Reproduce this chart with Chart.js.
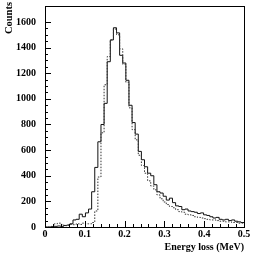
<!DOCTYPE html>
<html><head><meta charset="utf-8">
<script src="https://cdn.jsdelivr.net/npm/chart.js@4/dist/chart.umd.min.js"></script>
<style>html,body{margin:0;padding:0;background:#fff}canvas{display:block}</style>
</head><body>
<canvas id="c" width="259" height="253"></canvas>
<script>
const binWidth = 0.0078125; // 64 bins over 0 - 0.5 MeV
const solidCounts = [
  0, 0, 3, 5, 8, 5, 12, 15, 25, 55, 60, 100, 80, 110, 140, 275,
  465, 665, 800, 965, 1290, 1460, 1555, 1515, 1340, 1280, 1145, 950, 815, 725, 590, 525,
  470, 420, 400, 330, 275, 265, 240, 210, 225, 190, 165, 160, 135, 140, 125, 120,
  115, 105, 110, 95, 90, 80, 70, 75, 60, 55, 60, 50, 55, 45, 40, 35
];
const dottedCounts = [
  0, 0, 5, 25, 30, 20, 10, 15, 20, 18, 25, 20, 30, 25, 25, 35,
  125, 390, 735, 1110, 1330, 1460, 1545, 1500, 1390, 1270, 1130, 930, 760, 680, 560, 480,
  420, 360, 320, 290, 250, 220, 195, 175, 160, 150, 135, 120, 115, 100, 95, 90,
  80, 75, 70, 65, 60, 55, 55, 50, 45, 45, 40, 40, 35, 35, 30, 30
];
const xTickValues = [0, 0.1, 0.2, 0.3, 0.4, 0.5];
const yTickValues = [0, 200, 400, 600, 800, 1000, 1200, 1400, 1600];
const xMinorStep = 0.02;
const yMinorStep = 50;
const yMax = 1717;
const xTitle = 'Energy loss (MeV)';
const yTitle = 'Counts';

const FONT = 'Liberation Serif';

function toPoints(counts) {
  const pts = counts.map((c, i) => ({ x: i * binWidth, y: c }));
  pts.push({ x: counts.length * binWidth, y: counts[counts.length - 1] });
  return pts;
}

const frameAndTicks = {
  id: 'frameAndTicks',
  afterDraw(chart) {
    const { ctx, chartArea: a, scales: { x, y } } = chart;
    ctx.save();
    ctx.strokeStyle = '#000';
    ctx.lineWidth = 1;
    ctx.beginPath();
    const nY = Math.floor(1600 / yMinorStep);
    for (let i = 0; i <= nY; i++) {
      const v = i * yMinorStep;
      const py = Math.round(y.getPixelForValue(v)) + 0.5;
      const len = (v % 200 === 0) ? 6 : 3;
      ctx.moveTo(a.left, py); ctx.lineTo(a.left + len, py);
    }
    const nX = Math.round(0.5 / xMinorStep);
    for (let i = 0; i <= nX; i++) {
      const v = i * xMinorStep;
      const px = Math.round(x.getPixelForValue(v)) + 0.5;
      const len = (i % 5 === 0) ? 6 : 3;
      ctx.moveTo(px, a.bottom); ctx.lineTo(px, a.bottom - len);
    }
    ctx.stroke();
    ctx.strokeRect(Math.round(a.left) + 0.5, Math.round(a.top) - 0.5,
                   Math.round(a.right) - Math.round(a.left), Math.round(a.bottom) - Math.round(a.top) + 1);
    ctx.fillStyle = '#000';
    ctx.font = 'bold 10.5px "' + FONT + '"';
    ctx.translate(9.5, 2);
    ctx.rotate(-Math.PI / 2);
    ctx.textAlign = 'right';
    ctx.textBaseline = 'middle';
    ctx.fillText(yTitle, 0, 0);
    ctx.restore();
  }
};

new Chart(document.getElementById('c'), {
  type: 'line',
  data: {
    datasets: [
      { data: toPoints(dottedCounts), borderColor: '#333', borderWidth: 1, borderDash: [1.5, 1.5],
        pointRadius: 0, stepped: 'before', fill: false },
      { data: toPoints(solidCounts), borderColor: '#111', borderWidth: 1,
        pointRadius: 0, stepped: 'before', fill: false }
    ]
  },
  options: {
    responsive: false,
    devicePixelRatio: 1,
    animation: false,
    layout: { padding: { left: 0, right: 15, top: 7, bottom: 0 } },
    plugins: { legend: { display: false }, tooltip: { enabled: false } },
    scales: {
      x: {
        type: 'linear', min: 0, max: 0.5,
        afterBuildTicks: s => { s.ticks = xTickValues.map(v => ({ value: v })); },
        afterFit: s => { s.height = 26; s.paddingLeft = 0; s.paddingRight = 0; },
        grid: { display: false, drawTicks: false },
        border: { display: false },
        ticks: { padding: 1, maxRotation: 0, autoSkip: false, color: '#000',
                 font: { family: FONT, weight: 'bold', size: 10 },
                 callback: v => String(v) },
        title: { display: true, text: xTitle, align: 'end', color: '#000', padding: 0,
                 font: { family: FONT, weight: 'bold', size: 10 } }
      },
      y: {
        type: 'linear', min: 0, max: yMax,
        afterBuildTicks: s => { s.ticks = yTickValues.map(v => ({ value: v })); },
        afterFit: s => { s.width = 45; s.paddingTop = 0; s.paddingBottom = 0; },
        grid: { display: false, drawTicks: false },
        border: { display: false },
        ticks: { padding: 9, color: '#000', autoSkip: false,
                 font: { family: FONT, weight: 'bold', size: 10 },
                 callback: v => String(v) }
      }
    }
  },
  plugins: [frameAndTicks]
});
</script>
</body></html>
